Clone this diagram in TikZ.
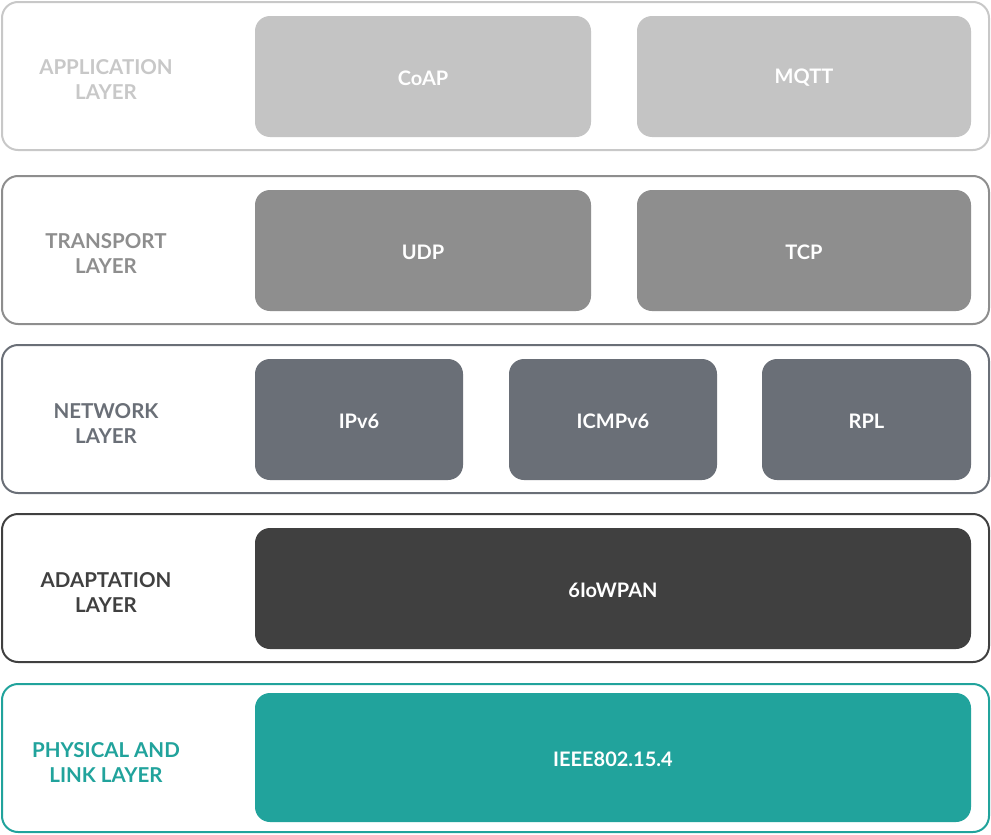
\documentclass[tikz,border=0pt]{standalone}
\usepackage{fontspec}
\setmainfont{Lato}
\begin{document}
\begin{tikzpicture}[x=1pt,y=-1pt,
  layerbox/.style={draw=#1, line width=2pt, rounded corners=16pt, fill=white},
  proto/.style={fill=#1, rounded corners=15pt, text=white, font=\bfseries\fontsize{20}{22}\selectfont},
  layername/.style={text=#1, align=center, font=\bfseries\fontsize{20.5}{25}\selectfont}]
\definecolor{appc}{HTML}{C4C4C4}
\definecolor{appl}{HTML}{C8C8C8}
\definecolor{trac}{HTML}{8E8E8E}
\definecolor{netc}{HTML}{6A6F77}
\definecolor{adac}{HTML}{404040}
\definecolor{phyc}{HTML}{21A39C}
\useasboundingbox (0,0) rectangle (991,835);
% application layer
\draw[layerbox=appl] (2,2) rectangle (989,150);
\node[layername=appl] (appname) at (106,80) {APPLICATION\\LAYER};
\fill[proto=appc] (255,16) rectangle (591,137) node[midway, yshift=-1.5pt] (coap) {CoAP};
\fill[proto=appc] (637,16) rectangle (971,137) node[midway, yshift=-1.5pt] (mqtt) {MQTT};
% transport layer
\draw[layerbox=trac] (2,176) rectangle (989,324);
\node[layername=trac] (traname) at (106,254) {TRANSPORT\\LAYER};
\fill[proto=trac] (255,190) rectangle (591,311) node[midway, yshift=-1.5pt] (udp) {UDP};
\fill[proto=trac] (637,190) rectangle (971,311) node[midway, yshift=-1.5pt] (tcp) {TCP};
% network layer
\draw[layerbox=netc] (2,345) rectangle (989,493);
\node[layername=netc] (netname) at (106,424) {NETWORK\\LAYER};
\fill[proto=netc] (255,359) rectangle (463,480) node[midway, yshift=-1.5pt] (ipv6) {IPv6};
\fill[proto=netc] (509,359) rectangle (717,480) node[midway, yshift=-1.5pt] (icmp) {ICMPv6};
\fill[proto=netc] (762,359) rectangle (971,480) node[midway, yshift=-1.5pt] (rpl) {RPL};
% adaptation layer
\draw[layerbox=adac] (2,514) rectangle (989,662);
\node[layername=adac] (adaname) at (106,593) {ADAPTATION\\LAYER};
\fill[proto=adac] (255,528) rectangle (971,649) node[midway, yshift=-1.5pt] (lowpan) {6IoWPAN};
% physical and link layer
\draw[layerbox=phyc] (2,684) rectangle (989,832);
\node[layername=phyc] (phyname) at (106,762) {PHYSICAL AND\\LINK LAYER};
\fill[proto=phyc] (255,693) rectangle (971,822) node[midway, yshift=-1.5pt] (ieee) {IEEE802.15.4};
\end{tikzpicture}
\end{document}
